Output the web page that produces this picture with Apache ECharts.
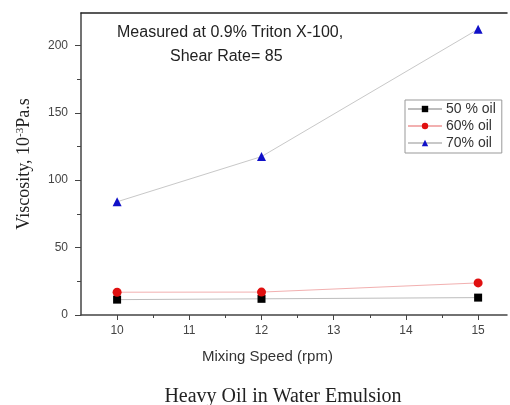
<!DOCTYPE html>
<html>
<head>
<meta charset="utf-8">
<script src="https://cdn.jsdelivr.net/npm/echarts@6/dist/echarts.min.js"></script>
<style>
  html, body { margin: 0; padding: 0; background: #fff; }
  #chart { width: 510px; height: 405px; }
</style>
</head>
<body>
<div id="chart"></div>
<script>
// Mixing speed (rpm) and measured viscosity (10^-3 Pa.s) per oil fraction
const speeds = [10, 12, 15];
const oil50 = [11.4, 12.0, 12.9];
const oil60 = [16.9, 17.0, 23.8];
const oil70 = [84, 117.5, 212];

const xMajorTicks = [10, 11, 12, 13, 14, 15];
const xMinorTicks = [10.5, 11.5, 12.5, 13.5, 14.5];
const yTicks = [0, 50, 100, 150, 200];

const seriesNames = ['50 % oil', '60% oil', '70% oil'];

const pairs = (xs, ys) => xs.map((x, i) => [x, ys[i]]);

const chart = echarts.init(document.getElementById('chart'));

const axisColor = '#444';
const sans = 'Arial, "Liberation Sans", sans-serif';
const serif = '"Liberation Serif", "Times New Roman", serif';
const labelStyle = { fontFamily: sans, fontSize: 12, color: '#444' };

chart.setOption({
  animation: false,
  backgroundColor: '#fff',
  grid: { left: 81, top: 13, right: 3, bottom: 90 },
  title: {
    text: 'Heavy Oil in Water Emulsion',
    left: 283,
    textAlign: 'center',
    top: 387,
    padding: 0,
    textStyle: { fontFamily: serif, fontSize: 20, fontWeight: 'normal', color: '#222' }
  },
  legend: {
    data: seriesNames,
    orient: 'vertical',
    left: 405,
    top: 100,
    itemWidth: 34,
    itemHeight: 8,
    itemGap: 3,
    padding: [2, 6, 3, 2],
    borderColor: '#999',
    borderWidth: 1,
    textStyle: { fontFamily: sans, fontSize: 14, color: '#333', padding: [0, 0, 0, -1] }
  },
  graphic: [
    {
      type: 'text',
      left: 117, top: 25,
      style: { text: 'Measured at 0.9% Triton X-100,', font: '16px Arial, "Liberation Sans", sans-serif', fill: '#222' }
    },
    {
      type: 'text',
      left: 170, top: 49,
      style: { text: 'Shear Rate= 85', font: '16px Arial, "Liberation Sans", sans-serif', fill: '#222' }
    },
    {
      type: 'text',
      left: 202, top: 349,
      style: { text: 'Mixing Speed (rpm)', font: '15px Arial, "Liberation Sans", sans-serif', fill: '#333' }
    }
  ],
  xAxis: [
    {
      type: 'value',
      min: 9.5, max: 15.4,
      axisLine: { show: true, lineStyle: { color: axisColor, width: 1.5 } },
      axisTick: { show: true, customValues: xMajorTicks, length: 5, lineStyle: { color: axisColor } },
      axisLabel: Object.assign({ customValues: xMajorTicks, margin: 10 }, labelStyle),
      splitLine: { show: false }
    },
    {
      type: 'value',
      min: 9.5, max: 15.4,
      position: 'bottom',
      axisLine: { show: false },
      axisTick: { show: true, customValues: xMinorTicks, length: 3, lineStyle: { color: axisColor } },
      axisLabel: { show: false },
      splitLine: { show: false }
    },
    {
      type: 'value',
      min: 9.5, max: 15.4,
      position: 'top',
      axisLine: { show: true, lineStyle: { color: '#222', width: 1.5 } },
      axisTick: { show: false },
      axisLabel: { show: false },
      splitLine: { show: false }
    }
  ],
  yAxis: {
    type: 'value',
    min: 0, max: 224,
    interval: 50,
    name: '{a|Viscosity, 10}{b|-3}{a|Pa.s}',
    nameLocation: 'middle',
    nameGap: 47,
    nameTextStyle: {
      rich: {
        a: { fontFamily: serif, fontSize: 18, color: '#222' },
        b: { fontFamily: serif, fontSize: 11, color: '#222', verticalAlign: 'top', padding: [0, 0, 8, 0] }
      }
    },
    axisLine: { show: true, lineStyle: { color: axisColor, width: 1.5 } },
    axisTick: { show: true, length: 6, customValues: yTicks, lineStyle: { color: axisColor } },
    minorTick: { show: true, splitNumber: 2, length: 4, lineStyle: { color: axisColor } },
    axisLabel: Object.assign({ margin: 13, customValues: yTicks }, labelStyle),
    splitLine: { show: false },
    minorSplitLine: { show: false }
  },
  series: [
    {
      name: seriesNames[0],
      type: 'line',
      data: pairs(speeds, oil50),
      symbol: 'rect',
      symbolSize: 8,
      itemStyle: { color: '#000' },
      lineStyle: { color: '#bdbdbd', width: 1 }
    },
    {
      name: seriesNames[1],
      type: 'line',
      data: pairs(speeds, oil60),
      symbol: 'circle',
      symbolSize: 9,
      itemStyle: { color: '#e01010' },
      lineStyle: { color: '#f2b0b0', width: 1 }
    },
    {
      name: seriesNames[2],
      type: 'line',
      data: pairs(speeds, oil70),
      symbol: 'triangle',
      symbolSize: 9,
      itemStyle: { color: '#1010c8' },
      lineStyle: { color: '#c8c8c8', width: 1 }
    }
  ]
});
</script>
</body>
</html>
